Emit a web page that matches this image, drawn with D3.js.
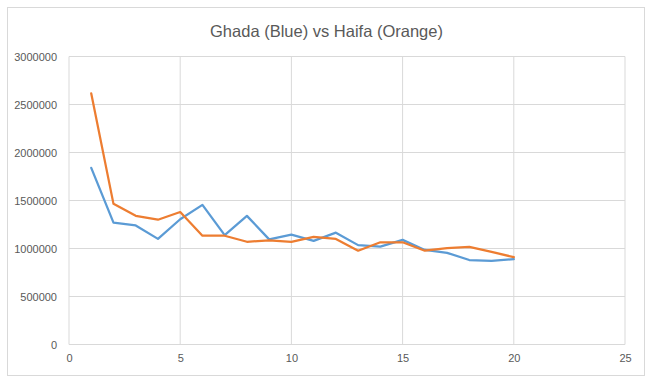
<!DOCTYPE html>
<html><head><meta charset="utf-8">
<script src="https://cdn.jsdelivr.net/npm/d3@7"></script>
<style>body{margin:0;background:#fff}svg{display:block}</style>
</head><body>
<script>
const xValues = [1,2,3,4,5,6,7,8,9,10,11,12,13,14,15,16,17,18,19,20];
const ghada = [1840000,1270000,1240000,1100000,1305000,1455000,1140000,1340000,1095000,1145000,1080000,1165000,1035000,1020000,1090000,985000,955000,880000,870000,890000];
const haifa = [2615000,1465000,1340000,1300000,1380000,1133000,1133000,1070000,1085000,1070000,1122000,1100000,977000,1065000,1065000,977000,1005000,1016000,964000,910000];
const xTicks = [0,5,10,15,20,25];
const yTicks = [0,500000,1000000,1500000,2000000,2500000,3000000];
const title = "Ghada (Blue) vs Haifa (Orange)";

const W = 651, H = 383;
const svg = d3.select("body").append("svg").attr("width", W).attr("height", H);
svg.append("rect").attr("x",7.5).attr("y",7.5).attr("width",637).attr("height",368)
  .attr("fill","#fff").attr("stroke","#D9D9D9");

const x = d3.scaleLinear().domain([0,25]).range([69,625]);
const y = d3.scaleLinear().domain([0,3000000]).range([344.5,56.5]);
const font = "'Liberation Sans', Arial, sans-serif";

// gridlines
svg.append("g").selectAll("line").data(yTicks).join("line")
  .attr("x1",x(0)).attr("x2",x(25)).attr("y1",d=>y(d)).attr("y2",d=>y(d))
  .attr("stroke","#D9D9D9").attr("stroke-width",1);
svg.append("g").selectAll("line").data(xTicks).join("line")
  .attr("y1",y(0)).attr("y2",y(3000000)).attr("x1",d=>x(d)).attr("x2",d=>x(d))
  .attr("stroke","#D9D9D9").attr("stroke-width",1);

// axes labels
const yAxis = d3.axisLeft(y).tickValues(yTicks).tickFormat(d3.format("d")).tickSize(0).tickPadding(12);
const gy = svg.append("g").attr("transform",`translate(${x(0)},0)`).call(yAxis);
gy.select(".domain").remove();
gy.selectAll("text").attr("fill","#595959").style("font-family",font).style("font-size","11px");

const xAxis = d3.axisBottom(x).tickValues(xTicks).tickFormat(d3.format("d")).tickSize(0).tickPadding(10);
const gx = svg.append("g").attr("transform",`translate(0,${y(0)})`).call(xAxis);
gx.select(".domain").remove();
gx.selectAll("text").attr("fill","#595959").style("font-family",font).style("font-size","11px");

// lines
const line = d3.line().x((d,i)=>x(xValues[i])).y(d=>y(d));
svg.append("path").datum(ghada).attr("d",line).attr("fill","none")
  .attr("stroke","#5B9BD5").attr("stroke-width",2.25).attr("stroke-linejoin","round").attr("stroke-linecap","round");
svg.append("path").datum(haifa).attr("d",line).attr("fill","none")
  .attr("stroke","#ED7D31").attr("stroke-width",2.25).attr("stroke-linejoin","round").attr("stroke-linecap","round");

svg.append("text").attr("x",326.5).attr("y",37).attr("text-anchor","middle")
  .attr("fill","#595959").style("font-family",font).style("font-size","16.5px")
  .text(title);
</script>
</body></html>
